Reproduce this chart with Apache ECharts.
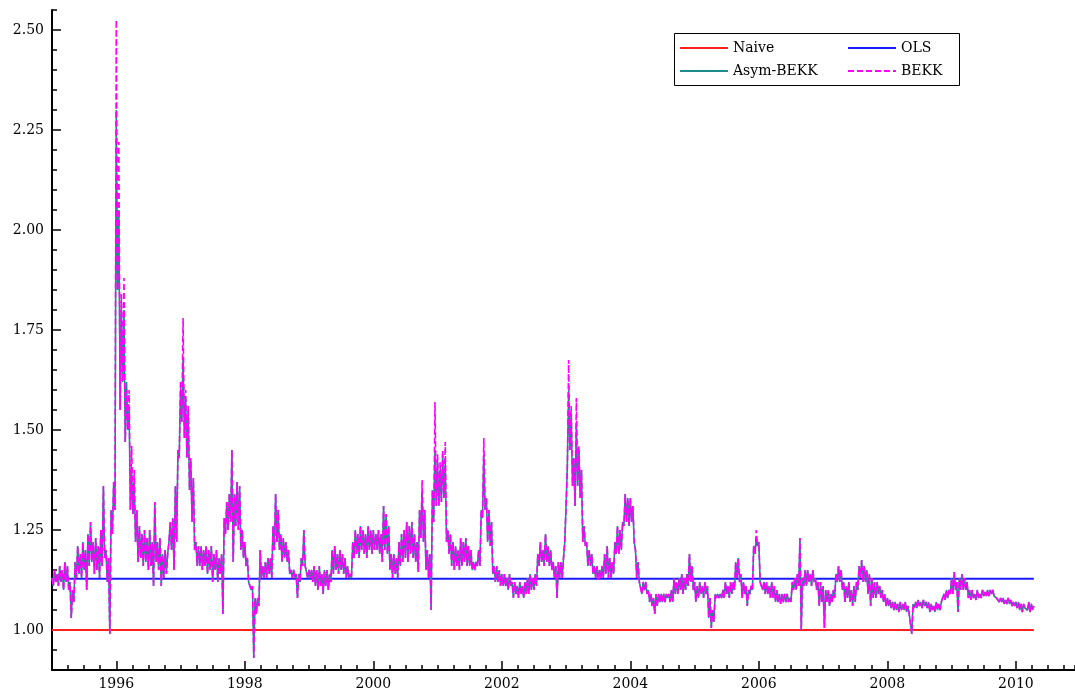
<!DOCTYPE html>
<html><head><meta charset="utf-8">
<script src="https://cdn.jsdelivr.net/npm/echarts@6/dist/echarts.min.js"></script>
<style>html,body{margin:0;padding:0;background:#fff}#c{width:1075px;height:699px}</style>
</head><body><div id="c"></div>
<script>
// ---- data ----
// Observations read off the picture every 0.04 year: for each step the top of
// the plotted band (at t) and the bottom of the band (half a step later).
const startYear = 1995.0;
const stepYears = 0.04;
const endYear = 2010.28;
const naiveValue = 1.00;
const olsValue = 1.128;
const xTickYears = [1996, 1998, 2000, 2002, 2004, 2006, 2008, 2010];
const yTickValues = [1.00, 1.25, 1.50, 1.75, 2.00, 2.25, 2.50];
const seriesNames = ['Naive', 'OLS', 'Asym-BEKK', 'BEKK'];

const asymTop = [
/*1995*/ 1.13,1.15,1.14,1.16,1.15,1.17,1.16,1.12,1.10,1.17,1.21,1.19,1.22,1.20,1.24,1.27,1.22,1.23,1.21,1.25,1.36,1.20,1.18,1.30,1.37,
/*1996*/ 2.30,2.05,1.80,1.80,1.62,1.55,1.40,1.37,1.30,1.26,1.24,1.25,1.23,1.25,1.22,1.32,1.22,1.23,1.19,1.20,1.19,1.27,1.28,1.36,1.45,
/*1997*/ 1.60,1.68,1.58,1.55,1.42,1.38,1.22,1.21,1.21,1.20,1.21,1.20,1.21,1.19,1.20,1.18,1.19,1.28,1.32,1.34,1.45,1.34,1.37,1.36,1.25,
/*1998*/ 1.22,1.18,1.12,1.11,1.08,1.08,1.20,1.16,1.17,1.18,1.18,1.26,1.34,1.30,1.24,1.23,1.22,1.20,1.15,1.15,1.14,1.14,1.18,1.25,1.16,
/*1999*/ 1.15,1.15,1.16,1.15,1.16,1.14,1.15,1.15,1.14,1.20,1.21,1.19,1.20,1.19,1.18,1.16,1.14,1.22,1.25,1.24,1.26,1.25,1.24,1.26,1.25,
/*2000*/ 1.25,1.24,1.25,1.24,1.31,1.29,1.26,1.19,1.19,1.18,1.22,1.24,1.25,1.27,1.26,1.27,1.24,1.22,1.30,1.35,1.30,1.20,1.19,1.35,1.45,
/*2001*/ 1.42,1.40,1.44,1.42,1.25,1.24,1.22,1.21,1.20,1.23,1.22,1.23,1.21,1.20,1.17,1.17,1.20,1.30,1.44,1.33,1.30,1.27,1.16,1.16,1.15,
/*2002*/ 1.14,1.14,1.13,1.14,1.12,1.12,1.11,1.12,1.11,1.12,1.13,1.14,1.13,1.14,1.19,1.22,1.20,1.24,1.21,1.20,1.17,1.16,1.17,1.17,1.18,
/*2003*/ 1.31,1.60,1.54,1.43,1.52,1.45,1.40,1.26,1.22,1.20,1.19,1.16,1.16,1.15,1.16,1.19,1.21,1.18,1.17,1.22,1.26,1.25,1.27,1.34,1.33,
/*2004*/ 1.33,1.31,1.20,1.17,1.125,1.12,1.12,1.10,1.09,1.08,1.09,1.09,1.09,1.09,1.09,1.09,1.10,1.13,1.12,1.13,1.14,1.13,1.14,1.19,1.16,
/*2005*/ 1.12,1.11,1.12,1.11,1.12,1.11,1.08,1.05,1.09,1.09,1.09,1.10,1.12,1.11,1.12,1.12,1.17,1.18,1.14,1.12,1.11,1.10,1.11,1.21,1.23,
/*2006*/ 1.22,1.12,1.12,1.12,1.11,1.12,1.11,1.10,1.09,1.09,1.09,1.09,1.08,1.12,1.13,1.14,1.23,1.13,1.15,1.15,1.14,1.15,1.13,1.12,1.12,
/*2007*/ 1.11,1.10,1.10,1.09,1.10,1.14,1.16,1.15,1.12,1.11,1.12,1.10,1.11,1.12,1.16,1.175,1.16,1.15,1.14,1.13,1.12,1.12,1.11,1.10,1.09,
/*2008*/ 1.08,1.075,1.07,1.07,1.065,1.07,1.065,1.07,1.06,1.04,1.065,1.07,1.075,1.07,1.075,1.07,1.07,1.065,1.06,1.07,1.065,1.07,1.09,1.10,1.10,
/*2009*/ 1.13,1.145,1.12,1.13,1.14,1.13,1.12,1.10,1.10,1.09,1.10,1.09,1.10,1.095,1.10,1.10,1.10,1.09,1.085,1.08,1.08,1.075,1.08,1.075,1.07,
/*2010*/ 1.07,1.07,1.065,1.065,1.06,1.07,1.065,1.06
];

const bekkTop = [
/*1995*/ 1.13,1.15,1.14,1.16,1.15,1.17,1.16,1.12,1.10,1.17,1.21,1.19,1.22,1.20,1.24,1.27,1.22,1.23,1.21,1.25,1.36,1.20,1.18,1.30,1.37,
/*1996*/ 2.525,2.22,1.84,1.88,1.60,1.60,1.46,1.40,1.30,1.26,1.24,1.25,1.23,1.25,1.22,1.32,1.22,1.23,1.19,1.20,1.19,1.27,1.28,1.36,1.45,
/*1997*/ 1.62,1.78,1.60,1.56,1.43,1.38,1.22,1.21,1.21,1.20,1.21,1.20,1.21,1.19,1.20,1.18,1.19,1.28,1.32,1.34,1.45,1.34,1.37,1.36,1.25,
/*1998*/ 1.22,1.18,1.12,1.11,1.08,1.08,1.20,1.16,1.17,1.18,1.18,1.26,1.34,1.30,1.24,1.23,1.22,1.20,1.15,1.15,1.14,1.14,1.18,1.25,1.16,
/*1999*/ 1.15,1.15,1.16,1.15,1.16,1.14,1.15,1.15,1.14,1.20,1.21,1.19,1.20,1.19,1.18,1.16,1.14,1.22,1.25,1.24,1.26,1.25,1.24,1.26,1.25,
/*2000*/ 1.25,1.24,1.25,1.24,1.31,1.29,1.26,1.19,1.19,1.18,1.22,1.24,1.25,1.27,1.26,1.27,1.24,1.22,1.30,1.375,1.30,1.20,1.19,1.35,1.57,
/*2001*/ 1.44,1.42,1.45,1.47,1.25,1.24,1.22,1.21,1.20,1.23,1.22,1.23,1.21,1.20,1.17,1.17,1.20,1.30,1.48,1.33,1.30,1.27,1.16,1.16,1.15,
/*2002*/ 1.14,1.14,1.13,1.14,1.12,1.12,1.11,1.12,1.11,1.12,1.13,1.14,1.13,1.14,1.19,1.22,1.20,1.24,1.21,1.20,1.17,1.16,1.17,1.17,1.18,
/*2003*/ 1.31,1.675,1.56,1.43,1.58,1.46,1.40,1.26,1.22,1.20,1.19,1.16,1.16,1.15,1.16,1.19,1.21,1.18,1.17,1.22,1.26,1.25,1.27,1.34,1.33,
/*2004*/ 1.33,1.31,1.20,1.17,1.125,1.12,1.12,1.10,1.09,1.08,1.09,1.09,1.09,1.09,1.09,1.09,1.10,1.13,1.12,1.13,1.14,1.13,1.14,1.19,1.16,
/*2005*/ 1.12,1.11,1.12,1.11,1.12,1.11,1.08,1.05,1.09,1.09,1.09,1.10,1.12,1.11,1.12,1.12,1.17,1.18,1.14,1.12,1.11,1.10,1.11,1.21,1.25,
/*2006*/ 1.22,1.12,1.12,1.12,1.11,1.12,1.11,1.10,1.09,1.09,1.09,1.09,1.08,1.12,1.13,1.14,1.23,1.13,1.15,1.15,1.14,1.15,1.13,1.12,1.12,
/*2007*/ 1.11,1.10,1.10,1.09,1.10,1.14,1.16,1.15,1.12,1.11,1.12,1.10,1.11,1.12,1.16,1.175,1.16,1.15,1.14,1.13,1.12,1.12,1.11,1.10,1.09,
/*2008*/ 1.08,1.075,1.07,1.07,1.065,1.07,1.065,1.07,1.06,1.04,1.065,1.07,1.075,1.07,1.075,1.07,1.07,1.065,1.06,1.07,1.065,1.07,1.09,1.10,1.10,
/*2009*/ 1.13,1.145,1.12,1.13,1.14,1.13,1.12,1.10,1.10,1.09,1.10,1.09,1.10,1.095,1.10,1.10,1.10,1.09,1.085,1.08,1.08,1.075,1.08,1.075,1.07,
/*2010*/ 1.07,1.07,1.065,1.065,1.06,1.07,1.065,1.06
];

// bottom of the band (shared by both BEKK estimates, which overlap there)
const bandBottom = [
/*1995*/ 1.11,1.12,1.11,1.12,1.10,1.12,1.10,1.03,1.07,1.13,1.14,1.13,1.15,1.10,1.16,1.17,1.14,1.15,1.13,1.16,1.18,1.12,0.99,1.24,1.30,
/*1996*/ 1.85,1.55,1.62,1.47,1.50,1.30,1.29,1.22,1.17,1.18,1.16,1.17,1.15,1.16,1.11,1.17,1.15,1.11,1.13,1.14,1.22,1.20,1.15,1.22,1.43,
/*1997*/ 1.52,1.48,1.43,1.35,1.27,1.20,1.16,1.16,1.15,1.16,1.14,1.15,1.12,1.15,1.12,1.14,1.04,1.24,1.25,1.27,1.17,1.26,1.25,1.20,1.18,
/*1998*/ 1.16,1.12,1.10,0.93,1.04,1.06,1.13,1.13,1.13,1.14,1.13,1.20,1.22,1.20,1.17,1.18,1.17,1.14,1.13,1.13,1.08,1.12,1.16,1.16,1.13,
/*1999*/ 1.13,1.12,1.11,1.10,1.11,1.09,1.11,1.10,1.12,1.14,1.15,1.14,1.15,1.14,1.13,1.13,1.13,1.18,1.19,1.18,1.20,1.19,1.18,1.20,1.19,
/*2000*/ 1.20,1.20,1.19,1.17,1.20,1.19,1.15,1.13,1.14,1.13,1.16,1.17,1.18,1.17,1.19,1.18,1.17,1.145,1.23,1.22,1.15,1.13,1.05,1.27,1.31,
/*2001*/ 1.31,1.32,1.33,1.22,1.19,1.16,1.15,1.16,1.15,1.16,1.17,1.16,1.16,1.15,1.15,1.16,1.16,1.28,1.30,1.22,1.21,1.14,1.12,1.12,1.11,
/*2002*/ 1.11,1.11,1.10,1.11,1.08,1.09,1.08,1.09,1.08,1.09,1.09,1.10,1.10,1.11,1.16,1.17,1.16,1.17,1.16,1.15,1.13,1.08,1.13,1.13,1.22,
/*2003*/ 1.41,1.45,1.36,1.31,1.36,1.33,1.22,1.21,1.16,1.16,1.14,1.13,1.125,1.13,1.13,1.14,1.13,1.13,1.14,1.19,1.19,1.20,1.26,1.27,1.26,
/*2004*/ 1.27,1.22,1.13,1.12,1.09,1.10,1.09,1.07,1.06,1.04,1.06,1.07,1.07,1.07,1.08,1.07,1.07,1.09,1.09,1.10,1.09,1.10,1.11,1.12,1.10,
/*2005*/ 1.07,1.08,1.09,1.08,1.09,1.03,1.005,1.02,1.08,1.08,1.08,1.08,1.09,1.08,1.09,1.10,1.13,1.12,1.08,1.09,1.06,1.09,1.10,1.19,1.21,
/*2006*/ 1.12,1.10,1.09,1.09,1.08,1.08,1.07,1.07,1.065,1.07,1.07,1.07,1.07,1.10,1.10,1.11,1.00,1.11,1.11,1.12,1.11,1.12,1.10,1.06,1.07,
/*2007*/ 1.005,1.07,1.06,1.07,1.08,1.12,1.12,1.10,1.07,1.08,1.07,1.06,1.07,1.10,1.13,1.12,1.12,1.09,1.06,1.08,1.08,1.09,1.08,1.07,1.06,
/*2008*/ 1.06,1.055,1.05,1.05,1.045,1.05,1.05,1.045,1.04,0.99,1.055,1.055,1.06,1.055,1.06,1.055,1.045,1.05,1.045,1.05,1.05,1.075,1.075,1.08,1.09,
/*2009*/ 1.09,1.10,1.045,1.10,1.10,1.10,1.08,1.075,1.08,1.075,1.08,1.08,1.085,1.085,1.085,1.09,1.085,1.08,1.07,1.07,1.065,1.065,1.065,1.06,1.06,
/*2010*/ 1.055,1.05,1.045,1.055,1.05,1.045,1.05
];

// ---- build ----
const font = 'DejaVu Serif';
const r4 = v => Math.round(v * 10000) / 10000;
function bandPath(top, bottom) {
  const out = [];
  for (let i = 0; i < top.length; i++) {
    const t = startYear + i * stepYears;
    out.push([r4(t), top[i]]);
    if (i < bottom.length) out.push([r4(t + stepYears / 2), bottom[i]]);
  }
  return out;
}
const flat = v => [[startYear, v], [endYear, v]];

const xMin = 1995.0, xMax = 2010.92, yMin = 0.90, yMax = 2.55;
const baseX = { type: 'value', min: xMin, max: xMax, position: 'bottom', splitLine: { show: false } };
const baseY = { type: 'value', min: yMin, max: yMax, position: 'left', splitLine: { show: false } };
const legendCommon = {
  orient: 'vertical', top: 41, padding: 0, itemWidth: 48, itemHeight: 14, itemGap: 9,
  itemStyle: { opacity: 0 }, selectedMode: false,
  textStyle: { fontFamily: font, fontSize: 14, color: '#000' }
};

const chart = echarts.init(document.getElementById('c'), null, { renderer: 'canvas' });
chart.setOption({
  animation: false,
  backgroundColor: '#fff',
  grid: { left: 52, right: 0, top: 10, bottom: 29, containLabel: false },
  xAxis: [
    Object.assign({}, baseX, {
      axisLine: { show: true, lineStyle: { color: '#000', width: 2 } },
      axisTick: { show: true, inside: true, length: 9, customValues: xTickYears, lineStyle: { color: '#000', width: 1.5 } },
      axisLabel: { show: true, customValues: xTickYears, margin: 7, color: '#000', fontFamily: font, fontSize: 14, formatter: v => String(Math.round(v)) }
    }),
    Object.assign({}, baseX, {
      interval: 0.25,
      axisLine: { show: false },
      axisTick: { show: true, inside: true, length: 5, lineStyle: { color: '#000', width: 1.5 } },
      axisLabel: { show: false }
    })
  ],
  yAxis: [
    Object.assign({}, baseY, {
      axisLine: { show: true, lineStyle: { color: '#000', width: 2 } },
      axisTick: { show: true, inside: true, length: 9, customValues: yTickValues, lineStyle: { color: '#000', width: 1.5 } },
      axisLabel: { show: true, customValues: yTickValues, margin: 8, color: '#000', fontFamily: font, fontSize: 14, formatter: v => v.toFixed(2) }
    }),
    Object.assign({}, baseY, {
      interval: 0.05,
      axisLine: { show: false },
      axisTick: { show: true, inside: true, length: 5, lineStyle: { color: '#000', width: 1.5 } },
      axisLabel: { show: false }
    })
  ],
  legend: [
    Object.assign({}, legendCommon, { data: [seriesNames[0], seriesNames[2]], left: 679 }),
    Object.assign({}, legendCommon, { data: [seriesNames[1], seriesNames[3]], left: 847 })
  ],
  graphic: [{
    type: 'rect', left: 672, top: 31, silent: true,
    shape: { width: 285, height: 52 },
    style: { fill: 'none', stroke: '#000', lineWidth: 1 }
  }],
  series: [
    { name: seriesNames[0], type: 'line', data: flat(naiveValue), symbol: 'none', color: '#ff2020',
      lineStyle: { color: '#ff2020', width: 2 } },
    { name: seriesNames[1], type: 'line', data: flat(olsValue), symbol: 'none', color: '#1a1aff',
      lineStyle: { color: '#1a1aff', width: 2 } },
    { name: seriesNames[2], type: 'line', data: bandPath(asymTop, bandBottom), symbol: 'none', color: '#1e8c8c',
      lineStyle: { color: '#1e8c8c', width: 1.6 } },
    { name: seriesNames[3], type: 'line', data: bandPath(bekkTop, bandBottom), symbol: 'none', color: '#ff00ff',
      lineStyle: { color: '#ff00ff', width: 1.6, type: [6, 3] } }
  ]
});
</script>
</body></html>
